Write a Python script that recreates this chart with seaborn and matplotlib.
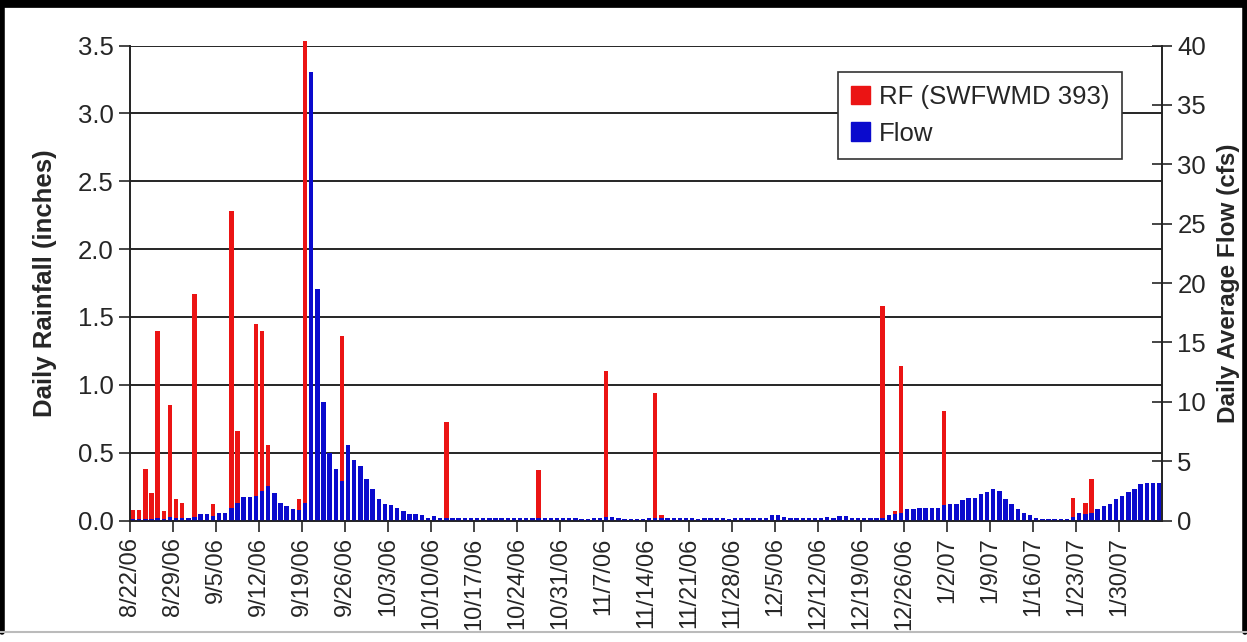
import numpy as np
import pandas as pd
import seaborn as sns
import matplotlib.pyplot as plt
from matplotlib.patches import Rectangle
from matplotlib.lines import Line2D
from matplotlib.ticker import FormatStrFormatter

# daily rainfall (inches), one row per week starting 8/22/06
rain = [
    0.08, 0.08, 0.38, 0.20, 1.40, 0.07, 0.85,
    0.16, 0.13, 0.00, 1.67, 0.00, 0.00, 0.12,
    0.00, 0.00, 2.28, 0.66, 0.00, 0.00, 1.45,
    1.40, 0.56, 0.00, 0.00, 0.00, 0.00, 0.16,
    3.53, 0.00, 0.00, 0.00, 0.00, 0.00, 1.36,
    0.00, 0.00, 0.00, 0.00, 0.00, 0.00, 0.00,
    0.00, 0.00, 0.00, 0.00, 0.00, 0.00, 0.00,
    0.00, 0.00, 0.73, 0.00, 0.00, 0.00, 0.00,
    0.00, 0.00, 0.00, 0.00, 0.00, 0.00, 0.00,
    0.00, 0.00, 0.00, 0.37, 0.00, 0.00, 0.00,
    0.00, 0.00, 0.00, 0.00, 0.00, 0.00, 0.00,
    1.10, 0.00, 0.00, 0.00, 0.00, 0.00, 0.00,
    0.00, 0.94, 0.04, 0.00, 0.00, 0.00, 0.00,
    0.00, 0.00, 0.00, 0.00, 0.00, 0.00, 0.00,
    0.00, 0.00, 0.00, 0.00, 0.00, 0.00, 0.00,
    0.00, 0.00, 0.00, 0.00, 0.00, 0.00, 0.00,
    0.00, 0.00, 0.00, 0.00, 0.00, 0.00, 0.00,
    0.00, 0.00, 0.00, 1.58, 0.00, 0.07, 1.14,
    0.00, 0.00, 0.00, 0.00, 0.00, 0.00, 0.81,
    0.00, 0.00, 0.00, 0.00, 0.00, 0.00, 0.00,
    0.00, 0.00, 0.00, 0.00, 0.00, 0.00, 0.00,
    0.00, 0.00, 0.00, 0.00, 0.00, 0.00, 0.17,
    0.00, 0.13, 0.31, 0.00, 0.00, 0.00, 0.00,
    0.00, 0.00, 0.00, 0.00, 0.00, 0.00, 0.00,
]

# daily average flow (cfs), same days
flow = [
    0.10, 0.10, 0.15, 0.15, 0.20, 0.15, 0.30,
    0.25, 0.25, 0.20, 0.30, 0.56, 0.56, 0.40,
    0.67, 0.67, 1.10, 1.50, 1.95, 1.95, 2.10,
    2.50, 2.95, 2.30, 1.50, 1.25, 0.95, 0.90,
    1.50, 37.8, 19.5, 10.0, 5.70, 4.35, 3.30,
    6.40, 5.10, 4.60, 3.50, 2.65, 1.80, 1.40,
    1.30, 1.07, 0.85, 0.56, 0.56, 0.46, 0.25,
    0.35, 0.20, 0.20, 0.25, 0.20, 0.20, 0.25,
    0.20, 0.20, 0.25, 0.20, 0.20, 0.20, 0.25,
    0.20, 0.20, 0.20, 0.25, 0.25, 0.20, 0.20,
    0.20, 0.20, 0.20, 0.15, 0.15, 0.20, 0.20,
    0.30, 0.30, 0.20, 0.15, 0.15, 0.15, 0.15,
    0.20, 0.20, 0.20, 0.20, 0.20, 0.20, 0.20,
    0.20, 0.15, 0.20, 0.20, 0.20, 0.20, 0.15,
    0.20, 0.25, 0.25, 0.25, 0.20, 0.20, 0.45,
    0.45, 0.30, 0.25, 0.25, 0.25, 0.25, 0.25,
    0.25, 0.30, 0.25, 0.40, 0.40, 0.25, 0.25,
    0.25, 0.20, 0.20, 0.25, 0.50, 0.56, 0.67,
    0.96, 0.96, 1.07, 1.07, 1.07, 1.07, 1.30,
    1.40, 1.40, 1.70, 1.92, 1.92, 2.20, 2.37,
    2.68, 2.45, 1.83, 1.40, 0.96, 0.62, 0.48,
    0.22, 0.15, 0.15, 0.10, 0.10, 0.15, 0.28,
    0.67, 0.56, 0.67, 0.96, 1.24, 1.38, 1.83,
    2.03, 2.37, 2.68, 3.10, 3.20, 3.20, 3.20,
]

tick_labels = ['8/22/06', '8/29/06', '9/5/06', '9/12/06', '9/19/06', '9/26/06',
               '10/3/06', '10/10/06', '10/17/06', '10/24/06', '10/31/06',
               '11/7/06', '11/14/06', '11/21/06', '11/28/06', '12/5/06',
               '12/12/06', '12/19/06', '12/26/06', '1/2/07', '1/9/07',
               '1/16/07', '1/23/07', '1/30/07']

dates = pd.date_range('2006-08-22', periods=len(rain), freq='D')
df = pd.DataFrame({'date': dates.strftime('%Y-%m-%d'), 'rain': rain, 'flow': flow})

red = '#EB1414'
blue = '#0A0ACD'

sns.set_style("ticks")
plt.rcParams['font.family'] = ['Liberation Sans', 'DejaVu Sans']

fig = plt.figure(figsize=(12.47, 6.42), dpi=100)
ax = fig.add_axes([0.1043, 0.1891, 0.8276, 0.740])

sns.barplot(data=df, x='date', y='rain', color=red, saturation=1, width=0.72,
            errorbar=None, linewidth=0, ax=ax)
for p in ax.patches:
    p.set_clip_on(False)

ax2 = ax.twinx()
sns.barplot(data=df, x='date', y='flow', color=blue, saturation=1, width=0.72,
            errorbar=None, linewidth=0, ax=ax2)

n = len(rain)
ax.set_xlim(-0.5, n - 0.5)
ax.set_ylim(0, 3.5)
ax2.set_ylim(0, 40)
ax.set_yticks(np.arange(0, 3.51, 0.5))
ax2.set_yticks(np.arange(0, 41, 5))
ax.yaxis.set_major_formatter(FormatStrFormatter('%.1f'))
ax.set_xticks(np.arange(0, n - 6, 7) - 0.5)
ax.set_xticklabels(tick_labels, rotation=90, fontsize=17)

ax.yaxis.grid(True, color='black', lw=1.2)
ax.xaxis.grid(False)
ax.set_axisbelow(True)

for a in (ax, ax2):
    a.spines['top'].set_visible(False)
    for s in ('left', 'right', 'bottom'):
        a.spines[s].set_color('#222222')
        a.spines[s].set_linewidth(1.2)
ax.tick_params(axis='y', direction='out', length=8, width=1.2, labelsize=18.5, pad=4)
ax.tick_params(axis='x', direction='out', length=8, width=1.2, pad=4)
ax2.tick_params(axis='y', direction='inout', length=14, width=1.2, labelsize=18.5, pad=4)

ax.set_xlabel('')
ax.set_ylabel('Daily Rainfall (inches)', fontsize=18.5, fontweight='bold')
ax2.set_ylabel('Daily Average Flow (cfs)', fontsize=17.5, fontweight='bold')
ax.yaxis.set_label_coords(-0.0707, 0.5)
ax2.yaxis.set_label_coords(1.053, 0.5)

handles = [Rectangle((0, 0), 1, 1, color=red), Rectangle((0, 0), 1, 1, color=blue)]
leg = ax2.legend(handles, ['RF (SWFWMD 393)', 'Flow'], loc='upper left',
                 bbox_to_anchor=(0.686, 0.944), fontsize=18.5, frameon=True,
                 fancybox=False, framealpha=1, edgecolor='#333333',
                 handlelength=0.75, handleheight=0.75, handletextpad=0.35,
                 borderpad=0.5, labelspacing=0.5, borderaxespad=0)
leg.get_frame().set_linewidth(1.2)

# black frame round the picture
fig.add_artist(Line2D([0, 1], [0.995, 0.995], color='black', lw=7, transform=fig.transFigure))
fig.add_artist(Line2D([0.002, 0.002], [0.016, 1], color='black', lw=4, transform=fig.transFigure))
fig.add_artist(Line2D([0.998, 0.998], [0.016, 1], color='black', lw=4, transform=fig.transFigure))
fig.add_artist(Line2D([0, 1], [0.016, 0.016], color='#bbbbbb', lw=1.5, transform=fig.transFigure))

fig.savefig('out.png', dpi=100)
